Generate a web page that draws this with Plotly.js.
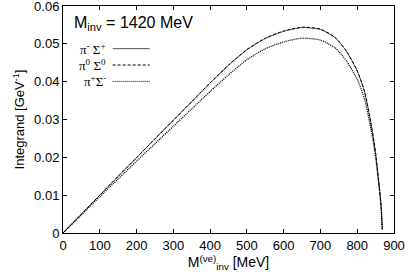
<!DOCTYPE html>
<html>
<head>
<meta charset="utf-8">
<script src="https://cdn.plot.ly/plotly-3.0.1.min.js"></script>
<style>html,body{margin:0;padding:0;background:#fff;}#chart{width:409px;height:275px;}</style>
</head>
<body>
<div id="chart"></div>
<script>
const mass = [0, 50, 100, 150, 200, 250, 300, 350, 400, 450, 500, 550, 600, 650, 700, 740, 770, 800, 820, 840, 850, 860, 865, 868];
const piMinusSigmaPlus = [0, 0.0050, 0.0100, 0.0150, 0.0199, 0.0249, 0.0298, 0.0347, 0.0396, 0.0443, 0.0484, 0.0514, 0.0533, 0.0543, 0.0538, 0.0516, 0.0481, 0.0428, 0.0373, 0.0275, 0.0210, 0.0122, 0.0070, 0.0010];
const piZeroSigmaZero = [0, 0.0050, 0.0100, 0.0150, 0.0199, 0.0249, 0.0298, 0.0347, 0.0397, 0.0444, 0.0485, 0.0515, 0.0534, 0.0544, 0.0539, 0.0517, 0.0482, 0.0429, 0.0374, 0.0276, 0.0211, 0.0123, 0.0071, 0.0010];
const piPlusSigmaMinus = [0, 0.0048, 0.0096, 0.0143, 0.0190, 0.0236, 0.0282, 0.0328, 0.0374, 0.0418, 0.0458, 0.0487, 0.0505, 0.0515, 0.0510, 0.0489, 0.0456, 0.0406, 0.0354, 0.0261, 0.0200, 0.0116, 0.0066, 0.0010];
const seriesNames = ["π<sup>-</sup> Σ<sup>+</sup>", "π<sup>0</sup> Σ<sup>0</sup>", "π<sup>+</sup>Σ<sup>-</sup>"];
const xTickStep = 100;
const yTickStep = 0.01;
const xRange = [0, 900];
const yRange = [0, 0.06];

const styles = [
  {color: '#555', width: 1, dash: 'solid'},
  {color: '#000', width: 1, dash: '3px,2px'},
  {color: '#000', width: 1.3, dash: '1px,1px'}
];
const ys = [piMinusSigmaPlus, piZeroSigmaZero, piPlusSigmaMinus];
const traces = ys.map((y, i) => ({
  x: mass, y: y, type: 'scatter', mode: 'lines', name: seriesNames[i],
  line: {color: styles[i].color, width: styles[i].width, dash: styles[i].dash, shape: 'spline', smoothing: 0.6},
  showlegend: false, hoverinfo: 'skip'
}));

const fam = 'Liberation Sans, Arial, Helvetica, sans-serif';
const annotations = [
  {xref: 'paper', yref: 'paper', x: 0.028, y: 0.925, xanchor: 'left', yanchor: 'middle', showarrow: false,
   text: 'M<sub>inv</sub> = 1420 MeV', font: {family: fam, size: 16, color: '#000'}}
];
const shapes = [];
const rowY = [0.812, 0.740, 0.668];
seriesNames.forEach((n, i) => {
  annotations.push({xref: 'paper', yref: 'paper', x: 0.135, y: rowY[i], xanchor: 'right', yanchor: 'middle',
    showarrow: false, text: n, font: {family: 'Liberation Serif, Times New Roman, serif', size: 13, color: '#000'}});
  shapes.push({type: 'line', xref: 'paper', yref: 'paper', x0: 0.150, x1: 0.262, y0: rowY[i], y1: rowY[i],
    line: {color: styles[i].color, width: 1, dash: styles[i].dash}});
});

const layout = {
  width: 409, height: 275,
  margin: {l: 63, r: 15, t: 6, b: 42},
  paper_bgcolor: '#fff', plot_bgcolor: '#fff',
  font: {family: fam, size: 13, color: '#000'},
  showlegend: false,
  xaxis: {
    range: xRange, tickmode: 'linear', tick0: 0, dtick: xTickStep, ticks: 'inside', ticklen: 4, tickcolor: '#000',
    showline: true, linecolor: '#000', linewidth: 1, mirror: 'ticks', showgrid: false, zeroline: false,
    ticklabeloverflow: 'allow',
    title: {text: 'M<sup>(ve)</sup><sub>inv</sub> [MeV]', font: {size: 14}, standoff: 3},
    tickfont: {size: 13}
  },
  yaxis: {
    range: yRange, tickmode: 'linear', tick0: 0, dtick: yTickStep, ticks: 'inside', ticklen: 4, tickcolor: '#000',
    showline: true, linecolor: '#000', linewidth: 1, mirror: 'ticks', showgrid: false, zeroline: false,
    ticklabeloverflow: 'allow',
    title: {text: 'Integrand [GeV<sup>-1</sup>]', font: {size: 13}, standoff: 6},
    tickfont: {size: 13}
  },
  annotations: annotations,
  shapes: shapes
};

Plotly.newPlot('chart', traces, layout, {staticPlot: true, displayModeBar: false});
</script>
</body>
</html>
